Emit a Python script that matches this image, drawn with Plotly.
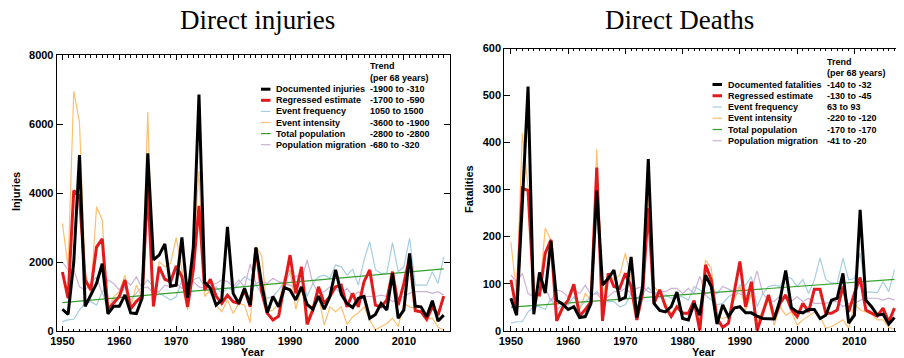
import plotly.graph_objects as go

years = list(range(1950, 2018))

# ---------------- Injuries ----------------
inj_documented = [630, 480, 2000, 5100, 714, 1047, 1380, 1950, 495, 714,
                  714, 1047, 524, 505, 952, 5150, 2060, 2200, 2520, 1300,
                  1330, 2710, 966, 2420, 6850, 1410, 1240, 750, 900, 3020,
                  1090, 800, 1240, 750, 2420, 1380, 530, 1000, 700, 1260,
                  1190, 900, 1280, 770, 630, 1010, 630, 1000, 1770, 1060,
                  800, 680, 950, 1000, 370, 480, 800, 610, 1670, 370,
                  610, 2250, 720, 700, 415, 880, 290, 460]
inj_regressed = [1710, 950, 4070, 3900, 1475, 1190, 2430, 2670, 620, 810,
                 1000, 1475, 640, 860, 1000, 4150, 714, 1860, 1500, 1430,
                 1880, 1570, 700, 1770, 3630, 1190, 1500, 1010, 800, 1040,
                 850, 800, 1190, 700, 2400, 1140, 510, 320, 430, 1330,
                 2200, 1090, 1860, 190, 610, 1280, 800, 1000, 1280, 1330,
                 700, 1090, 700, 1430, 1770, 750, 700, 900, 1720, 750,
                 1380, 2150, 590, 560, 340, 700, 460, 1010]
inj_frequency = [270, 320, 340, 610, 800, 850, 750, 1140, 610, 900,
                 1000, 1280, 900, 1090, 1280, 1480, 1280, 1090, 1000, 900,
                 1000, 1480, 1190, 1480, 1560, 1280, 1090, 1280, 1090, 1240,
                 1190, 1380, 1570, 1480, 1330, 1090, 950, 1000, 1190, 1430,
                 1670, 1570, 1670, 1000, 1380, 1570, 1620, 1530, 1910, 1860,
                 1620, 1790, 1330, 2060, 2590, 1770, 1670, 1670, 2560, 1720,
                 1860, 2690, 1330, 1330, 1330, 1720, 1380, 2150]
inj_intensity = [3120, 1860, 6950, 6050, 1670, 1090, 3600, 3220, 610, 1000,
                 1140, 1620, 700, 1330, 950, 6350, 700, 2010, 1860, 1960,
                 2710, 1770, 610, 2250, 4620, 1000, 1190, 750, 560, 900,
                 510, 800, 750, 240, 2440, 2200, 560, 610, 800, 1570,
                 1770, 630, 1240, 320, 700, 1010, 170, 700, 560, 700,
                 190, 415, 530, 700, 320, 30, 130, 220, 370, 130,
                 800, 700, 660, 530, 340, 370, 110, 30]
inj_pop_years = [1950, 2017]
inj_population = [820, 1800]
inj_migration = [2000, 1770, 1770, 1280, 1190, 1380, 1570, 1090, 1480, 1380,
                 1190, 1480, 1330, 1570, 1240, 1280, 1090, 1140, 1330, 1280,
                 1380, 1240, 1330, 1430, 1280, 1240, 1330, 1380, 1480, 1430,
                 1280, 1480, 1280, 1940, 1380, 1430, 1380, 1530, 1430, 1380,
                 1330, 1240, 1480, 2060, 1380, 1090, 1140, 1280, 1240, 1090,
                 1240, 1000, 1140, 1000, 1000, 1000, 1040, 1000, 850, 950,
                 1000, 1090, 1140, 1140, 1140, 1090, 1140, 1040]

# ---------------- Fatalities ----------------
fat_documented = [69, 33, 270, 519, 35, 124, 80, 191, 65, 57,
                  45, 51, 28, 30, 58, 298, 97, 111, 129, 65,
                  71, 157, 28, 94, 365, 58, 43, 40, 51, 82,
                  26, 23, 58, 33, 118, 94, 14, 55, 30, 48,
                  51, 38, 38, 31, 26, 26, 25, 65, 128, 49,
                  40, 38, 45, 45, 26, 33, 65, 69, 122, 16,
                  33, 257, 65, 51, 33, 35, 14, 28]
fat_regressed = [108, 44, 303, 298, 79, 76, 165, 193, 21, 48,
                 65, 99, 31, 45, 62, 347, 21, 122, 94, 90,
                 122, 94, 23, 79, 260, 58, 87, 51, 30, 51,
                 37, 37, 64, 0, 140, 108, 26, 7, 16, 79,
                 147, 51, 104, 0, 40, 76, 26, 58, 76, 45,
                 30, 58, 40, 88, 88, 37, 37, 44, 94, 40,
                 79, 113, 44, 38, 31, 48, 19, 48]
fat_frequency = [16, 19, 19, 40, 51, 51, 45, 69, 44, 55,
                 55, 72, 51, 62, 72, 83, 72, 62, 62, 51,
                 55, 79, 69, 79, 92, 79, 69, 76, 69, 74,
                 72, 65, 94, 87, 76, 65, 55, 58, 72, 79,
                 97, 97, 115, 51, 79, 94, 97, 94, 115, 111,
                 94, 109, 79, 108, 155, 109, 101, 101, 154, 108,
                 111, 165, 82, 82, 81, 104, 83, 130]
fat_intensity = [188, 79, 420, 306, 51, 79, 218, 193, 26, 51,
                 65, 87, 44, 79, 65, 386, 70, 122, 108, 118,
                 165, 108, 23, 101, 285, 94, 79, 58, 37, 51,
                 40, 33, 51, 44, 150, 133, 30, 26, 30, 65,
                 94, 44, 79, 16, 44, 65, 12, 51, 33, 40,
                 12, 23, 31, 40, 30, 5, 9, 16, 23, 5,
                 58, 44, 40, 35, 23, 23, 7, 3]
fat_pop_years = [1950, 2017]
fat_population = [50, 109]
fat_migration = [118, 104, 122, 79, 72, 83, 94, 62, 87, 83,
                 72, 87, 79, 97, 76, 79, 65, 72, 83, 83,
                 90, 79, 90, 94, 83, 79, 83, 83, 90, 90,
                 79, 90, 79, 116, 79, 83, 79, 94, 88, 83,
                 79, 72, 87, 127, 79, 65, 62, 74, 72, 62,
                 72, 62, 69, 58, 58, 58, 62, 62, 51, 58,
                 58, 65, 69, 69, 69, 65, 69, 65]

inj_names = ["Documented injuries", "Regressed estimate", "Event frequency",
             "Event intensity", "Total population", "Population migration"]
inj_trends = ["-1900 to -310", "-1700 to -590", "1050 to 1500",
              "-3600 to -1900", "-2800 to -2800", "-680 to -320"]
fat_names = ["Documented fatalities", "Regressed estimate", "Event frequency",
             "Event intensity", "Total population", "Population migration"]
fat_trends = ["-140 to -32", "-130 to -45", "63 to 93",
              "-220 to -120", "-170 to -170", "-41 to -20"]

inj_ticks = [0, 2000, 4000, 6000, 8000]
fat_ticks = [0, 100, 200, 300, 400, 500, 600]
year_ticks = [1950, 1960, 1970, 1980, 1990, 2000, 2010]

# styles: order = documented, regressed, frequency, intensity, population, migration
colors = ["#000000", "#e31a1c", "#a6cee3", "#fdbf6f", "#33a02c", "#cab2d6"]
widths = [3, 3, 1.2, 1.2, 1.2, 1.2]

# page body has an 8px margin; work in screen pixels and convert
OFF = 8
W, H = 896, 350

def fx(px):
    return (px - OFF) / W

def fy(py):
    return 1 - (py - OFF) / H

fig = go.Figure()

def add_panel(xa, ya, series):
    order = [2, 3, 5, 4, 1, 0]
    for i in order:
        xs, ys = series[i]
        fig.add_trace(go.Scatter(x=xs, y=ys, mode="lines", xaxis=xa, yaxis=ya,
                                 line=dict(color=colors[i], width=widths[i]),
                                 showlegend=False, hoverinfo="skip", cliponaxis=True))

add_panel("x", "y", [(years, inj_documented), (years, inj_regressed),
                     (years, inj_frequency), (years, inj_intensity),
                     (inj_pop_years, inj_population), (years, inj_migration)])
add_panel("x2", "y2", [(years, fat_documented), (years, fat_regressed),
                       (years, fat_frequency), (years, fat_intensity),
                       (fat_pop_years, fat_population), (years, fat_migration)])

tickfont = dict(family="Liberation Sans, Arial, sans-serif", size=11, color="black", weight="bold")
titlefont = dict(family="Liberation Sans, Arial, sans-serif", size=11, color="black", weight="bold")

def xaxis_cfg(dom, rng, anchor):
    return dict(domain=dom, range=rng, anchor=anchor, automargin=False,
                tickvals=year_ticks, ticks="inside", ticklen=5,
                tickwidth=1, tickcolor="black", showline=True, linecolor="black", linewidth=1,
                mirror="ticks", showgrid=False, zeroline=False, tickfont=tickfont,
                minor=dict(dtick=1, ticks="inside", ticklen=2.5, tickcolor="black", showgrid=False))

def yaxis_cfg(dom, rng, tv, anchor):
    return dict(domain=dom, range=rng, anchor=anchor, automargin=False,
                tickvals=tv, ticks="inside", ticklen=6, tickwidth=1,
                tickcolor="black", showline=True, linecolor="black", linewidth=1,
                mirror="ticks", showgrid=False, zeroline=False, tickfont=tickfont)

fig.update_layout(
    width=W, height=H, margin=dict(l=0, r=0, t=0, b=0, autoexpand=False),
    paper_bgcolor="white", plot_bgcolor="white", showlegend=False,
    xaxis=xaxis_cfg([fx(56.7), fx(450)], [1949.0, 2018.1], "y"),
    yaxis=yaxis_cfg([fy(331), fy(55)], [0, 8000], inj_ticks, "x"),
    xaxis2=xaxis_cfg([fx(504.3), fx(902.5)], [1948.85, 2018.4], "y2"),
    yaxis2=yaxis_cfg([fy(330.7), fy(48.5)], [0, 600], fat_ticks, "x2"),
)

ann = []
def px_text(x, y, text, font, xanchor="center", textangle=0):
    ann.append(dict(x=fx(x), y=fy(y), xref="paper", yref="paper", text=text,
                    showarrow=False, xanchor=xanchor, yanchor="middle", font=font,
                    textangle=textangle))

serif = dict(family="Liberation Serif, Times New Roman, serif", size=27, color="black")
px_text(257, 20, "Direct injuries", serif)
px_text(679, 20, "Direct Deaths", serif)
px_text(253, 352, "Year", titlefont)
px_text(704, 352, "Year", titlefont)
px_text(16, 192, "Injuries", titlefont, textangle=-90)
px_text(469, 189, "Fatalities", titlefont, textangle=-90)

legfont = dict(family="Liberation Sans, Arial, sans-serif", size=9, color="black", weight="bold")
shapes = []
def legend(x_line0, x_line1, x_name, x_trend, y_head, y_sub, y_row0, dy, names, trends):
    px_text(x_trend, y_head, "Trend", legfont, xanchor="left")
    px_text(x_trend, y_sub, "(per 68 years)", legfont, xanchor="left")
    for i, (n, t) in enumerate(zip(names, trends)):
        y = y_row0 + dy * i
        px_text(x_name, y, n, legfont, xanchor="left")
        px_text(x_trend, y, t, legfont, xanchor="left")
        shapes.append(dict(type="line", xref="paper", yref="paper",
                           x0=fx(x_line0), x1=fx(x_line1), y0=fy(y), y1=fy(y),
                           line=dict(color=colors[i], width=widths[i])))

legend(261, 270.5, 273.5, 367.5, 66, 77.5, 89.2, 11.1, inj_names, inj_trends)
legend(712.5, 722, 725.5, 824.5, 62, 73, 84.5, 11.25, fat_names, fat_trends)

fig.update_layout(annotations=ann, shapes=shapes)
fig.write_html("out.html")
